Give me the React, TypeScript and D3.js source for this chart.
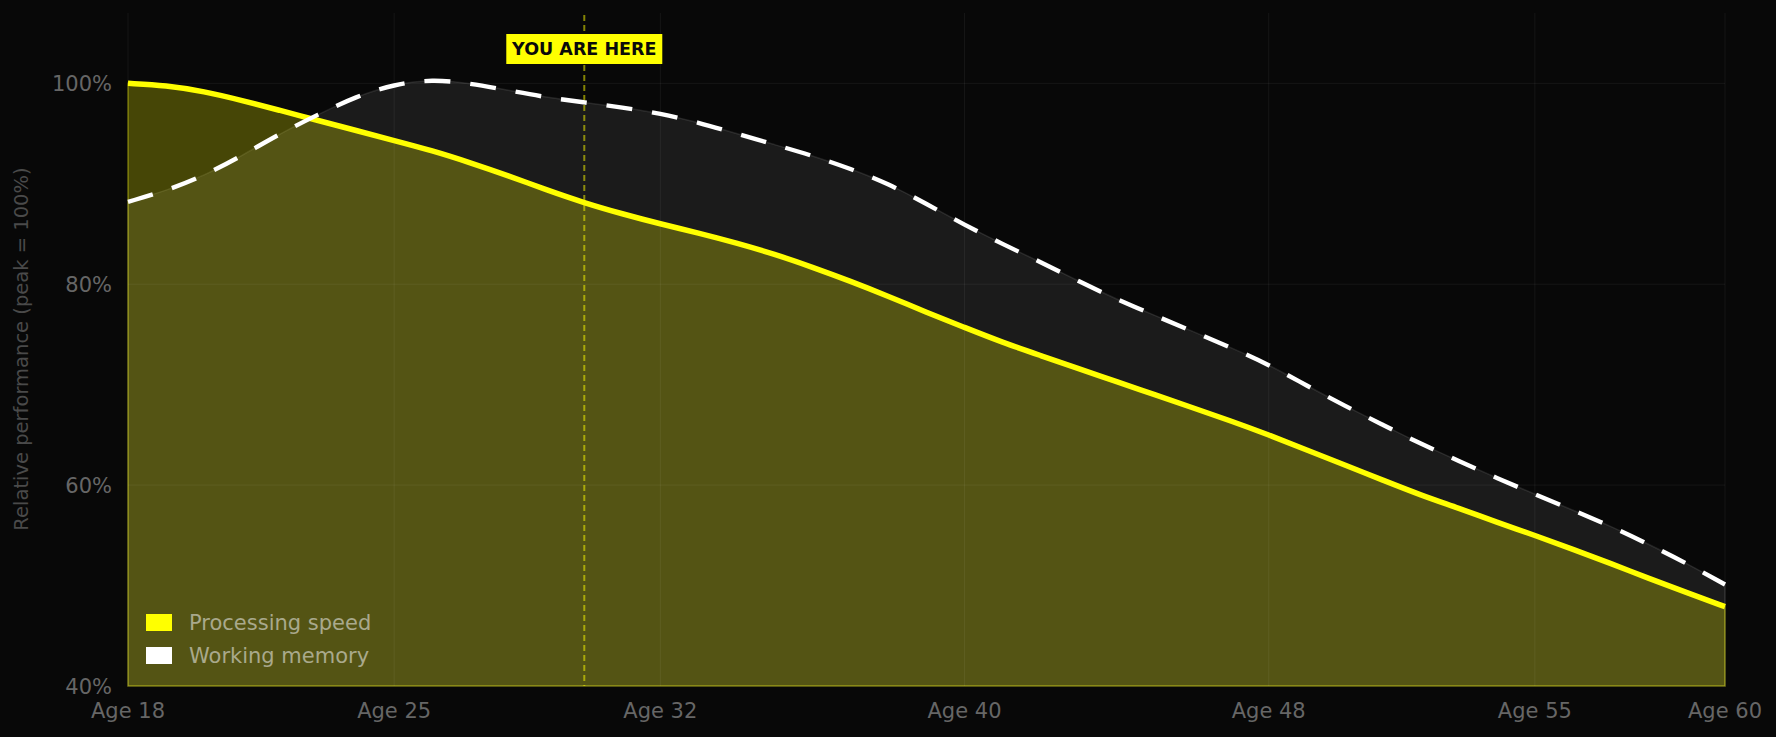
import { useEffect } from "react";
import * as d3 from "d3";

// values, one per year of age
const ages = [
  18, 19, 20, 21, 22, 23, 24, 25, 26, 27, 28, 29, 30, 31, 32, 33, 34, 35, 36, 37, 38, 39,
  40, 41, 42, 43, 44, 45, 46, 47, 48, 49, 50, 51, 52, 53, 54, 55, 56, 57, 58, 59, 60,
];
const processingSpeed = [
  100.0, 99.8, 99.2, 98.3, 97.3, 96.3, 95.3, 94.3, 93.3, 92.1, 90.8, 89.4, 88.1, 87.0, 86.0,
  85.1, 84.1, 83.0, 81.7, 80.3, 78.8, 77.2, 75.7, 74.2, 72.9, 71.6, 70.3, 69.0, 67.7, 66.4,
  65.0, 63.5, 62.0, 60.5, 59.0, 57.7, 56.3, 55.0, 53.6, 52.2, 50.7, 49.3, 47.9,
];
const workingMemory = [
  88.2, 89.3, 90.8, 92.8, 95.0, 96.9, 98.7, 99.9, 100.4, 100.0, 99.3, 98.6, 98.1, 97.6, 97.0,
  96.1, 95.0, 93.9, 92.8, 91.5, 90.0, 88.0, 85.9, 84.0, 82.2, 80.3, 78.5, 76.9, 75.3, 73.7,
  72.0, 69.9, 67.9, 66.0, 64.1, 62.4, 60.7, 59.1, 57.5, 55.9, 54.1, 52.2, 50.1,
];
const xTicks = [18, 25, 32, 40, 48, 55, 60];
const yTicks = [40, 60, 80, 100];
const yGrid = [60, 80, 100];
const youAreHereAge = 30;
const legendItems = [
  { label: "Processing speed", color: "#ffff00" },
  { label: "Working memory", color: "#ffffff" },
];

const W = 1776;
const H = 737;
const margin = { top: 13, right: 51, bottom: 51, left: 128 };
const FONT = "DejaVu Sans, Verdana, sans-serif";

type Pt = { age: number; v: number };

export default function App() {
  useEffect(() => {
    document.body.style.margin = "0";
    document.body.style.background = "#080808";
  }, []);

  const x = d3.scaleLinear().domain([18, 60]).range([margin.left, W - margin.right]);
  const y = d3.scaleLinear().domain([40, 107]).range([H - margin.bottom, margin.top]);

  const speed: Pt[] = ages.map((a, i) => ({ age: a, v: processingSpeed[i] }));
  const memory: Pt[] = ages.map((a, i) => ({ age: a, v: workingMemory[i] }));

  const line = d3
    .line<Pt>()
    .x(d => x(d.age))
    .y(d => y(d.v))
    .curve(d3.curveBasis);
  const area = d3
    .area<Pt>()
    .x(d => x(d.age))
    .y0(y(40))
    .y1(d => y(d.v))
    .curve(d3.curveBasis);

  const [x0, x1] = x.range();
  const [yb, yt] = y.range();
  const hereX = x(youAreHereAge);

  return (
    <svg width={W} height={H} style={{ display: "block", background: "#080808" }}>
      <rect width={W} height={H} fill="#080808" />

      {/* filled areas: memory behind, speed on top */}
      <path d={area(memory) || ""} fill="rgba(255,255,255,0.08)" stroke="rgba(255,255,255,0.1)" strokeWidth={1.5} />
      <path d={area(speed) || ""} fill="rgba(255,255,0,0.25)" stroke="rgba(255,255,0,0.35)" strokeWidth={1.5} />

      {/* grid */}
      <g stroke="rgba(255,255,255,0.06)" strokeWidth={1}>
        {xTicks.map(t => (
          <line key={t} x1={x(t)} x2={x(t)} y1={yt} y2={yb} />
        ))}
        {yGrid.map(t => (
          <line key={t} x1={x0} x2={x1} y1={y(t)} y2={y(t)} />
        ))}
      </g>

      {/* you are here marker */}
      <line
        x1={hereX}
        x2={hereX}
        y1={yt + 2}
        y2={yb}
        stroke="#ffff00"
        strokeOpacity={0.5}
        strokeWidth={2}
        strokeDasharray="6,4"
      />

      <path d={line(speed) || ""} fill="none" stroke="#ffff00" strokeWidth={5.5} />
      <path
        d={line(memory) || ""}
        fill="none"
        stroke="#ffffff"
        strokeWidth={4.4}
        strokeDasharray="26,20"
      />

      <rect x={hereX - 78} y={34} width={156} height={30} fill="#ffff00" />
      <text
        x={hereX}
        y={54.5}
        textAnchor="middle"
        fontFamily={FONT}
        fontWeight="bold"
        fontSize={17.5}
        fill="#0a0a0a"
      >
        YOU ARE HERE
      </text>

      {/* y axis labels */}
      {yTicks.map(t => (
        <text
          key={t}
          x={x0 - 16}
          y={y(t) + 7.5}
          textAnchor="end"
          fontFamily={FONT}
          fontSize={21}
          fill="#666"
        >
          {t}%
        </text>
      ))}
      <text
        transform={`translate(28,349) rotate(-90)`}
        textAnchor="middle"
        fontFamily={FONT}
        fontSize={19.5}
        fill="#4a4a4a"
      >
        Relative performance (peak = 100%)
      </text>

      {/* x axis labels */}
      {xTicks.map(t => (
        <text
          key={t}
          x={x(t)}
          y={718}
          textAnchor="middle"
          fontFamily={FONT}
          fontSize={21}
          fill="#666"
        >
          Age {t}
        </text>
      ))}

      {/* legend */}
      {legendItems.map((d, i) => (
        <g key={d.label} transform={`translate(146,${614 + i * 33})`}>
          <rect width={26} height={17} fill={d.color} />
          <text x={43} y={15.5} fontFamily={FONT} fontSize={21} fill="#a9a98c">
            {d.label}
          </text>
        </g>
      ))}
    </svg>
  );
}
